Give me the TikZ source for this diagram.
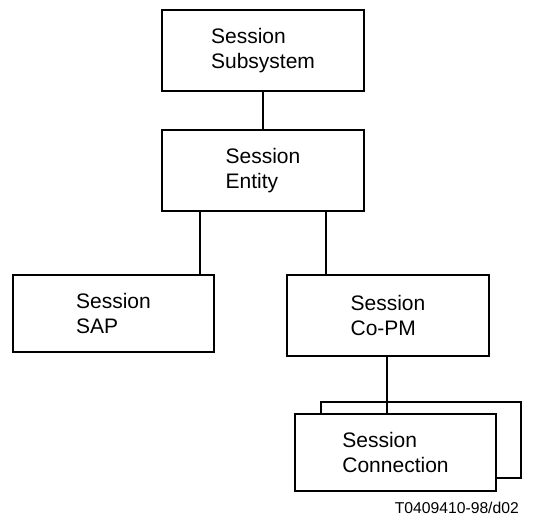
\documentclass[tikz,border=0pt]{standalone}
\usepackage{fontspec}
\setmainfont{Liberation Sans}
\begin{document}
\begin{tikzpicture}[x=1pt,y=-1pt,
  box/.style={draw,line width=1.2pt,fill=white,inner sep=0pt,align=left,
    font=\fontsize{21}{25}\selectfont},
  link/.style={line width=1.2pt}]
\useasboundingbox[fill=white] (0,0) rectangle (545,520);
\node[box,minimum width=202pt,minimum height=81pt] (subsys) at (263,50.5) {Session\\Subsystem};
\node[box,minimum width=202pt,minimum height=81pt] (entity) at (263,170.5) {Session\\Entity};
\node[box,minimum width=201pt,minimum height=77pt] (sap) at (113.5,313.5) {Session\\SAP};
\node[box,minimum width=202pt,minimum height=81pt] (copm) at (388,315.5) {Session\\Co-PM};
\node[box,minimum width=200pt,minimum height=76pt] (connback) at (421,440) {};
\node[box,minimum width=201pt,minimum height=77pt] (conn) at (395.5,452.5) {Session\\Connection};
\draw[link] (subsys.south) -- (entity.north);
\draw[link] (entity.south -| 200,0) -- (sap.north -| 200,0);
\draw[link] (entity.south -| 326,0) -- (copm.north -| 326,0);
\draw[link] (copm.south -| 387,0) -- (conn.north -| 387,0);
\node[anchor=base east,inner sep=0pt,font=\fontsize{15.7}{18}\selectfont] (tag) at (519,513) {T0409410-98/d02};
\end{tikzpicture}
\end{document}
